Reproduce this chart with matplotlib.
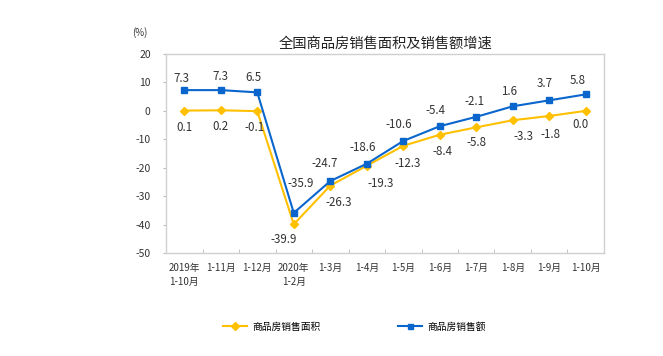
import matplotlib
matplotlib.use("Agg")
import matplotlib.pyplot as plt
import numpy as np

plt.rcParams['font.family'] = ['Noto Sans CJK SC', 'DejaVu Sans']

categories = ["2019年\n1-10月", "1-11月", "1-12月", "2020年\n1-2月", "1-3月", "1-4月",
              "1-5月", "1-6月", "1-7月", "1-8月", "1-9月", "1-10月"]
area = [0.1, 0.2, -0.1, -39.9, -26.3, -19.3, -12.3, -8.4, -5.8, -3.3, -1.8, 0.0]
sales = [7.3, 7.3, 6.5, -35.9, -24.7, -18.6, -10.6, -5.4, -2.1, 1.6, 3.7, 5.8]
area_labels = ["0.1", "0.2", "-0.1", "-39.9", "-26.3", "-19.3", "-12.3", "-8.4", "-5.8", "-3.3", "-1.8", "0.0"]
sales_labels = ["7.3", "7.3", "6.5", "-35.9", "-24.7", "-18.6", "-10.6", "-5.4", "-2.1", "1.6", "3.7", "5.8"]
yticks = [20, 10, 0, -10, -20, -30, -40, -50]

# label offsets (points) for styling
sales_off = [(-2, 8), (0, 10), (-3, 11), (5, 21), (-4, 13), (-3, 12),
             (-3, 12), (-3, 11), (-1, 11), (-3, 11), (-3, 12), (-6, 10)]
area_off = [(0, -12), (0, -12), (-2, -12), (-7, -11), (6, -12), (10, -13),
            (3, -13), (2, -12), (0, -11), (8, -12), (1, -13), (-4, -10)]

yellow = '#FFC000'
blue = '#0A66CC'

fig = plt.figure(figsize=(6.63, 3.56), dpi=100)
ax = fig.add_axes([0.2504, 0.2893, 0.6606, 0.559])
x = np.arange(len(categories))

ax.plot(x, area, color=yellow, marker='D', markersize=4, linewidth=1.5, label='商品房销售面积')
ax.plot(x, sales, color=blue, marker='s', markersize=4, linewidth=1.5, label='商品房销售额')

for i in range(len(x)):
    ax.annotate(sales_labels[i], (x[i], sales[i]), xytext=sales_off[i], textcoords='offset points',
                ha='center', va='center', fontsize=8.3, color='#333333')
    ax.annotate(area_labels[i], (x[i], area[i]), xytext=area_off[i], textcoords='offset points',
                ha='center', va='center', fontsize=8.3, color='#333333')

ax.set_xlim(-0.5, len(x) - 0.5)
ax.set_ylim(-50, 20)
ax.set_yticks(yticks)
ax.set_yticklabels([str(v) for v in yticks], fontsize=7.5, color='#333333')
ax.tick_params(axis='y', length=2, color='#BBBBBB', pad=9)

ax.set_xticks(x)
ax.set_xticklabels(categories, fontsize=7, color='#333333', linespacing=1.5, va='top')
ax.tick_params(axis='x', length=0, pad=7)
ax.set_xticks(np.arange(0.5, len(x) - 0.5, 1), minor=True)
ax.tick_params(axis='x', which='minor', direction='in', length=3, color='#BBBBBB')

for s in ax.spines.values():
    s.set_color('#D0D0D0')
    s.set_linewidth(1)

fig.text(0.581, 0.878, '全国商品房销售面积及销售额增速', ha='center', va='center', fontsize=10.3, color='#222222')
fig.text(0.211, 0.91, '(%)', ha='center', va='center', fontsize=7, color='#333333')

ax.legend(loc='center', bbox_to_anchor=(0.43, -0.37), ncol=2, frameon=False, fontsize=7,
          columnspacing=8, handlelength=2.5, handletextpad=0.5, markerscale=0.9)

fig.savefig('out.png', dpi=100)
